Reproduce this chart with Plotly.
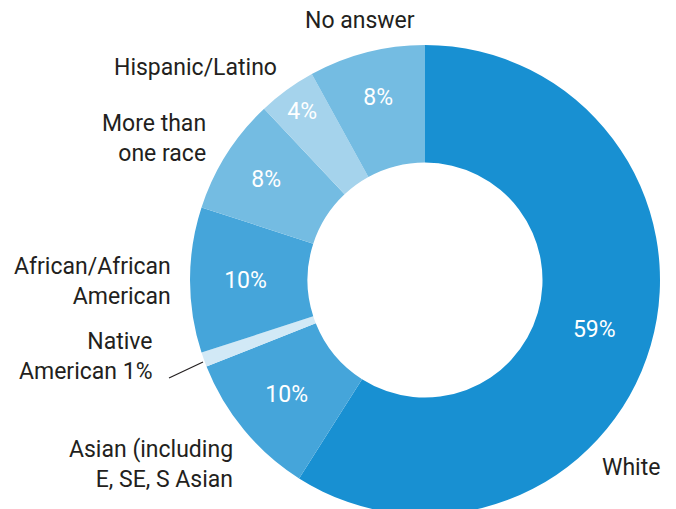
import plotly.graph_objects as go

categories = ["White", "Asian (including E, SE, S Asian", "Native American", "African/African American",
              "More than one race", "Hispanic/Latino", "No answer"]
values = [59, 10, 1, 10, 8, 4, 8]
inside_text = ["59%", "10%", "", "10%", "8%", "4%", "8%"]
colors = ["#1890d2", "#45a5da", "#d2e9f6", "#45a5da", "#74bce2", "#a5d3ec", "#74bce2"]

W, H = 676, 509
OFF = 8  # page body margin
FONT = "Roboto"
CX, CY, R = 425 - OFF, 280 - OFF, 235

fig = go.Figure(go.Pie(
    labels=categories,
    values=values,
    text=inside_text,
    textinfo="text",
    textposition="inside",
    insidetextorientation="horizontal",
    textfont=dict(color="white", size=23, family=FONT),
    marker=dict(colors=colors, line=dict(width=0)),
    hole=0.5,
    sort=False,
    direction="clockwise",
    rotation=0,
    showlegend=False,
    hoverinfo="label+percent",
    domain=dict(x=[(CX - R) / W, (CX + R) / W], y=[(H - CY - R) / H, (H - CY + R) / H]),
))

def px(x, y):
    return (x - OFF) / W, 1 - (y - OFF) / H

labels_out = [
    ("No answer", 360, 20, "center"),
    ("Hispanic/Latino", 195, 67, "center"),
    ("More than<br>one race", 208, 138, "right"),
    ("African/African<br>American", 173, 281, "right"),
    ("Native<br>American 1%", 155, 356, "right"),
    ("Asian (including<br>E, SE, S Asian", 235, 464, "right"),
    ("White", 631, 467, "center"),
]
anns = []
for t, x, y, al in labels_out:
    xx, yy = px(x, y)
    anns.append(dict(text=t, x=xx, y=yy, xref="paper", yref="paper", showarrow=False,
                     xanchor=al, yanchor="middle", align=al,
                     font=dict(size=23, color="#231f20", family=FONT)))

x0, y0 = px(169, 378)
x1, y1 = px(203, 362)
fig.update_layout(
    width=W, height=H,
    margin=dict(l=0, r=0, t=0, b=0),
    paper_bgcolor="white", plot_bgcolor="white",
    annotations=anns,
    shapes=[dict(type="line", xref="paper", yref="paper", x0=x0, y0=y0, x1=x1, y1=y1,
                 line=dict(color="#231f20", width=1.2))],
)
fig.write_html("out.html")
